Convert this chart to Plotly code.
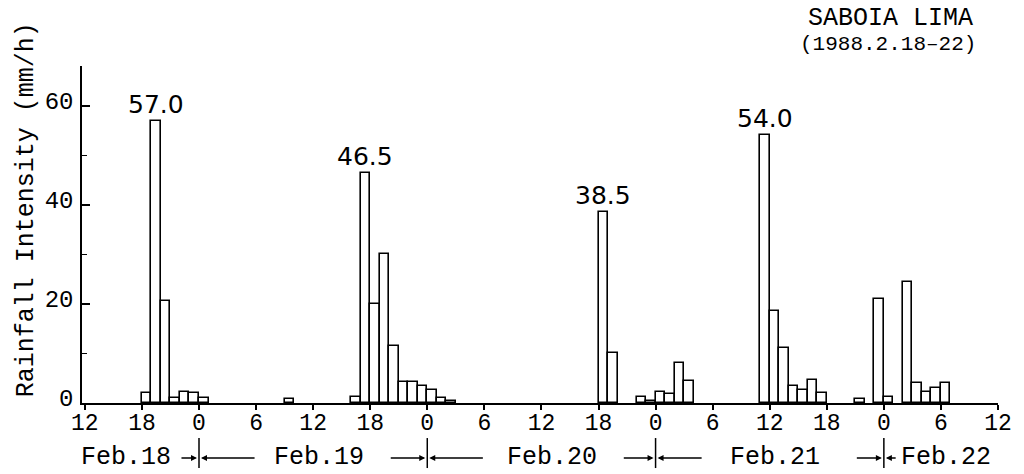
import plotly.graph_objects as go

# Hourly rainfall intensity at Saboia Lima, 18-22 Feb 1988.
# rain_hour = start of each hourly interval, in hours after 12:00 on 18 Feb.
rain_hour = [6, 7, 8, 9, 10, 11, 12,
             21,
             28, 29, 30, 31, 32, 33, 34, 35, 36, 37, 38,
             54, 55, 58, 59, 60, 61, 62, 63,
             71, 72, 73, 74, 75, 76, 77,
             81, 83, 84, 86, 87, 88, 89, 90]
rain_mm_h = [2.0, 57.0, 20.5, 1.0, 2.2, 2.0, 1.0,
             0.8,
             1.2, 46.5, 20.0, 30.0, 11.5, 4.2, 4.2, 3.4, 2.7, 1.1, 0.4,
             38.5, 10.0, 1.2, 0.5, 2.2, 1.8, 8.0, 4.5,
             54.0, 18.5, 11.0, 3.5, 2.7, 4.7, 2.0,
             0.8, 21.0, 1.2, 24.5, 4.0, 2.2, 3.0, 4.0]

# storm peaks that carry a value label
peak_hour = [7, 29, 54, 71]

# x axis: a tick every 6 hours, labelled with clock time
tick_hour = list(range(0, 97, 6))
tick_text = ["12", "18", "0", "6"] * 4 + ["12"]

# day names under the axis and the midnight separators between them
day_names = ["Feb.18", "Feb.19", "Feb.20", "Feb.21", "Feb.22"]
day_name_hour = [4.3, 24.6, 49.1, 72.6, 90.5]
day_break = [12, 36, 60, 84]
arm_left = [2.0, 4.0, 3.5, 3.0]
arm_right = [6.0, 6.0, 5.0, 1.4]

MONO = "Liberation Mono"

fig = go.Figure()
fig.add_trace(go.Bar(
    x=[h + 0.5 for h in rain_hour],
    y=rain_mm_h,
    width=1.0,
    marker=dict(color="white", line=dict(color="black", width=1.6)),
    showlegend=False,
    hoverinfo="x+y",
))

annotations = []
for h in peak_hour:
    v = rain_mm_h[rain_hour.index(h)]
    annotations.append(dict(
        x=h + 0.5, y=v, xref="x", yref="y",
        text=f"{v:.1f}", showarrow=False, yanchor="bottom", yshift=0,
        font=dict(family="DejaVu Sans", size=25, color="black"),
    ))

# axis title
annotations.append(dict(
    x=-0.0597, y=0.573, xref="paper", yref="paper",
    text="Rainfall Intensity (mm/h)", textangle=-90, showarrow=False,
    xanchor="center", yanchor="middle",
    font=dict(family=MONO, size=25, color="black"),
))

# station name and period
annotations.append(dict(
    x=0.975, y=1.142, xref="paper", yref="paper", text="SABOIA LIMA",
    showarrow=False, xanchor="right", yanchor="middle",
    font=dict(family=MONO, size=25, color="black"),
))
annotations.append(dict(
    x=0.978, y=1.065, xref="paper", yref="paper", text="(1988.2.18–22)",
    showarrow=False, xanchor="right", yanchor="middle",
    font=dict(family=MONO, size=21, color="black"),
))

ROW_Y = -0.163
for name, h in zip(day_names, day_name_hour):
    annotations.append(dict(
        x=h, y=ROW_Y, xref="x", yref="paper", text=name, showarrow=False,
        xanchor="center", yanchor="middle",
        font=dict(family=MONO, size=25, color="black"),
    ))

shapes = []
for b, left, right in zip(day_break, arm_left, arm_right):
    shapes.append(dict(type="line", xref="x", yref="paper",
                       x0=b, x1=b, y0=-0.104, y1=-0.193,
                       line=dict(color="black", width=1.5)))
    for tail in (b - left, b + right):
        annotations.append(dict(
            x=b, y=ROW_Y, xref="x", yref="paper",
            ax=tail, ay=0, axref="x", ayref="pixel",
            text="", showarrow=True, arrowhead=2, arrowsize=0.8,
            arrowwidth=1.5, arrowcolor="black", standoff=2,
        ))

fig.update_layout(
    width=1024, height=474,
    margin=dict(l=82, r=21, t=66, b=71),
    paper_bgcolor="white", plot_bgcolor="white",
    bargap=0,
    annotations=annotations,
    shapes=shapes,
    xaxis=dict(
        range=[-0.3, 96], showgrid=False, zeroline=False,
        showline=True, linecolor="black", linewidth=2,
        tickmode="array", tickvals=tick_hour, ticktext=tick_text,
        ticks="outside", ticklen=5, tickwidth=1.5, tickcolor="black",
        ticklabelstandoff=-8,
        tickfont=dict(family=MONO, size=23, color="black"),
    ),
    yaxis=dict(
        range=[0, 68], showgrid=False, zeroline=False,
        showline=True, linecolor="black", linewidth=1.5,
        tickmode="array", tickvals=[0, 20, 40, 60],
        ticks="inside", ticklen=8, tickwidth=1.5, tickcolor="black",
        ticklabelshift=-5, ticklabelstandoff=2,
        minor=dict(tickmode="array", tickvals=[10, 30, 50], ticks="inside",
                   ticklen=5, tickwidth=1.2, tickcolor="black"),
        tickfont=dict(family=MONO, size=24, color="black"),
    ),
)

fig.write_html("out.html")
